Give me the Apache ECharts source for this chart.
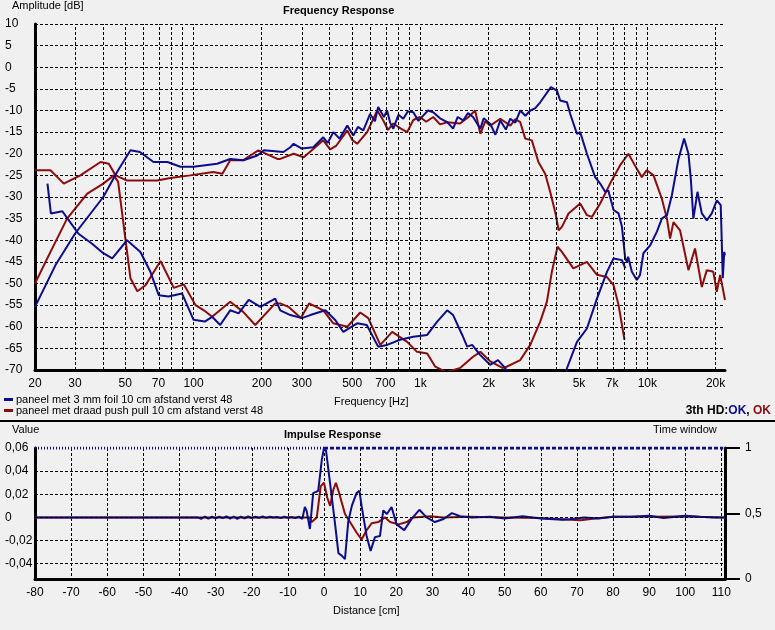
<!DOCTYPE html>
<html>
<head>
<meta charset="UTF-8">
<title>Frequency / Impulse Response</title>
<style>
  html, body { margin: 0; padding: 0; background: #f0f0f0; }
  #chart { width: 775px; height: 630px; }
</style>
<script src="https://cdn.jsdelivr.net/npm/echarts@6/dist/echarts.min.js"></script>
</head>
<body>
<div id="chart"></div>
<script>
// ---- frequency response data: [Hz, dB] ----
var blueMain = [[20,-55.4],[24.6,-45.8],[30,-38.5],[40,-30],[46,-24.2],[52.7,-19.2],[58,-19.6],[66.6,-21.9],[76.7,-21.9],[87.5,-23],[100,-23],[127,-22.3],[145,-21.2],[166,-21.5],[191,-20.4],[204,-19.2],[249,-19.6],[267,-18.5],[276,-17.7],[300,-18.8],[337,-18.5],[373,-16.2],[390,-17.5],[413,-15],[440,-16.5],[476,-13.5],[506,-15.8],[530,-13.8],[560,-14.6],[600,-10.8],[630,-12.5],[651,-9.2],[690,-11.5],[713,-10],[735,-12.8],[759,-14.2],[800,-11],[840,-11.9],[880,-10.2],[930,-10.4],[980,-12.4],[1028,-11.2],[1080,-10],[1138,-10.4],[1220,-11.8],[1312,-12.7],[1393,-14.2],[1460,-11.5],[1542,-12.3],[1620,-10.6],[1706,-11.5],[1837,-14.2],[1900,-11.8],[2032,-13.1],[2140,-15.6],[2249,-12.3],[2380,-14.4],[2489,-11.9],[2620,-12.8],[2754,-10],[2900,-11.2],[3048,-10],[3200,-9.5],[3373,-8.1],[3759,-4.6],[3995,-5.4],[4130,-7.7],[4424,-8.1],[4573,-10.8],[4897,-15.4],[5059,-15],[5418,-20],[5890,-25.4],[6197,-26.9],[6519,-28.8],[6730,-28.5],[7100,-33],[7470,-33.8],[7730,-36.9],[7990,-44.2],[8130,-45],[8230,-43.8],[8550,-47.3],[8990,-49.2],[9290,-48],[9610,-43],[10290,-41.2],[11020,-38],[11590,-35],[12200,-34.2],[12830,-29.6],[13720,-21.2],[14530,-16.5],[15180,-20],[15550,-25.8],[15960,-35],[16640,-28.8],[17390,-33.8],[18290,-35.4],[19240,-33.8],[20240,-30.8],[21070,-31.9],[21510,-48.8],[21830,-42.7],[22000,-43.5]];
var blueHD2 = [[22.7,-26.9],[23.5,-33.8],[26.4,-33.3],[28.2,-35.4],[31.1,-38.5],[35.7,-40.8],[40,-43],[43.8,-44.2],[50.9,-40],[58.3,-42.7],[64.5,-47.3],[70.2,-52.7],[77.6,-53],[88.9,-52.3],[100,-58.4],[112,-58.8],[120.7,-57.7],[131,-59.6],[145,-56.2],[158,-56.9],[175,-53.8],[197,-55.4],[229,-53.5],[241,-56.2],[267,-57.3],[300,-58],[327,-57.3],[381,-56.2],[422,-58.5],[457,-61.2],[526,-59.2],[580,-59.6],[651,-64.6],[713,-64.2],[813,-63],[930,-62.3],[1071,-61.9],[1185,-58.8],[1312,-56.2],[1393,-57.3],[1528,-61.9],[1607,-64.6],[1690,-64.2],[1832,-66.5],[2028,-68.8],[2197,-67.7],[2360,-69.5],[2500,-72]];
var blueHD3 = [[4300,-72],[4424,-69.6],[4897,-63.5],[5418,-60.4],[5998,-53.5],[6640,-47.3],[7100,-44.2],[7730,-44.6],[8000,-46.5]];
var redMain = [[20,-23.8],[23.4,-23.8],[26.8,-26.9],[31.7,-25],[38.9,-21.9],[42.3,-22.3],[45.3,-25],[51,-26.2],[62.5,-26.2],[69.2,-26.2],[79,-25.6],[96.6,-25],[122,-24.2],[134,-24.6],[145,-21.5],[165,-21.5],[193,-19.2],[234,-21.2],[241,-21.2],[276,-20],[306,-20.8],[373,-16.9],[400,-19],[426,-18.1],[476,-14.6],[500,-16.8],[526,-17.7],[582,-15],[645,-10],[686,-12.3],[720,-14.5],[759,-13],[820,-14.2],[874,-15],[930,-12.2],[995,-11.5],[1060,-12.6],[1138,-11.5],[1220,-13.2],[1312,-12.7],[1494,-13],[1620,-11.6],[1742,-10],[1837,-15.4],[1930,-12.5],[2032,-13.5],[2249,-11.9],[2489,-13.5],[2620,-12],[2754,-12.7],[2897,-16.5],[3097,-16.9],[3311,-21.9],[3545,-24.6],[3731,-28.8],[3927,-33.5],[4066,-37.7],[4202,-36.9],[4497,-33.8],[5059,-31.5],[5418,-34.2],[5700,-34.6],[6197,-31.5],[6855,-26.9],[7580,-22.7],[8255,-20],[8990,-23.5],[9460,-25.4],[9950,-23.8],[10650,-25],[11590,-30.4],[12200,-35],[12600,-39.6],[13040,-35.8],[13940,-37.7],[15180,-46.9],[16230,-41.9],[17390,-50.8],[18290,-46.9],[19540,-47.3],[20240,-51.9],[20940,-48],[22000,-53.8]];
var redHD2 = [[20,-50],[23.4,-42.7],[27.7,-35],[34,-29.2],[40,-26.9],[44.5,-25],[46.5,-26.5],[49.4,-37.3],[52.7,-48.8],[56.5,-51.8],[61.4,-50.4],[71.5,-44.8],[81.8,-51],[90.5,-50.2],[102,-55],[111,-56.2],[120.7,-57.7],[145,-54.2],[165,-56.5],[187,-59.6],[229,-54.6],[241,-54.6],[262,-55.4],[297,-58],[323,-54.6],[373,-56.2],[413,-59.2],[476,-60],[543,-56.7],[589,-58],[665,-64.2],[751,-61.2],[874,-63.5],[966,-65.8],[1071,-66.2],[1161,-69.2],[1300,-70.5],[1500,-69.5],[1700,-67],[1837,-65.8],[2032,-68],[2322,-69.6]];
var redHD3 = [[2322,-69.6],[2754,-67.7],[3048,-64.2],[3373,-58.8],[3610,-54.2],[3795,-47.3],[4020,-41.5],[4202,-42.7],[4720,-46.5],[5418,-45],[5998,-48],[6640,-48.5],[7100,-50.4],[7470,-55],[7930,-63]];

var freqGrid = [30,40,50,60,70,80,90,100,200,300,400,500,600,700,800,900,1000,2000,3000,4000,5000,6000,7000,8000,9000,10000,20000];
var freqLabels = [20,30,50,70,100,200,300,500,700,1000,2000,3000,5000,7000,10000,20000];

// ---- impulse response data: [cm, value] ----
var blueImp = [[-80,0],[-35,0],[-34,-0.0012],[-33,0.0008],[-32,-0.001],[-31,0.0006],[-30,-0.0008],[-29,0.0006],[-28,-0.0006],[-27,0.001],[-26,-0.001],[-25,0.0008],[-24,-0.0012],[-23,0.0006],[-22,-0.0008],[-21,0.0008],[-20,-0.0006],[-19,0.0006],[-18,-0.0004],[-17,0.0008],[-16,-0.0004],[-15,0.0006],[-14,0],[-13,0.0004],[-12,-0.0006],[-11,0.0006],[-10,-0.0002],[-9,0.0004],[-8,-0.0006],[-7,0.0006],[-6,-0.0012],[-5.3,0.009],[-4.8,0.0057],[-3.9,-0.01],[-3,0.021],[-1.6,0.023],[-0.6,0.05],[0,0.06],[0.55,0.058],[1.66,0.03],[3,-0.004],[4,-0.031],[4.9,-0.033],[5.8,-0.036],[6.7,-0.004],[7.7,0.01],[9,0.021],[9.8,0.023],[10.4,0.01],[11.8,-0.016],[12.9,-0.029],[14.1,-0.017],[15.5,-0.016],[16.4,0.006],[17.4,0.003],[18.7,0.009],[20.1,-0.006],[22.2,-0.011],[24.3,-0.001],[26.4,0.0066],[28.4,0],[30.7,-0.004],[33.1,-0.0014],[35.4,0.0037],[37.7,0.001],[41,0],[46,0.0005],[50,-0.001],[55,0.001],[60,-0.001],[66,-0.002],[68,-0.0015],[72,0],[76,-0.001],[80,0.0005],[85,0.0005],[90,0.0015],[94,-0.0005],[100,0.0015],[104,0.0005],[108,0],[111,0]];
var redImp = [[-80,0],[-4,0],[-3.4,-0.004],[-2,0],[-0.9,0.027],[0,0.03],[0.9,0.017],[1.7,0.01],[2.6,0.024],[3.3,0.03],[4.2,0.021],[5.8,0.003],[7.2,-0.004],[9,-0.013],[10.4,-0.019],[11.8,-0.011],[13.2,-0.005],[15,-0.004],[16.9,0],[18.3,-0.004],[20.6,-0.006],[22.9,-0.004],[24.7,0],[29.4,0.001],[33,0],[40,0.0005],[50,0],[60,-0.0005],[66,-0.0015],[71,-0.0025],[75,-0.001],[80,0.0005],[90,0.0005],[100,0.0008],[111,0]];
var impGrid = [0.04,0.02,0,-0.02,-0.04];
var impLabels = [-0.04,-0.02,0,0.02,0.04,0.06];
var timeWindowPre = [[-80,1],[0,1]];
var timeWindow = [[0,1],[110.5,1]];

var BLUE = '#0c0c8c', RED = '#8c0c0c';
var FONT = 'Liberation Sans';
var dash = {type: [3, 2], color: '#000', width: 1};
var axLine = {show: true, onZero: false, lineStyle: {color: '#000', width: 3}};

function lg(d) { return d.map(function (p) { return [Math.log10(p[0]), p[1]]; }); }
function comma(v) { return String(Math.round(v * 100) / 100).replace('.', ','); }

var chart = echarts.init(document.getElementById('chart'));
var line = function (name, data, color, x, y, extra) {
  return Object.assign({
    name: name, type: 'line', data: data, xAxisIndex: x, yAxisIndex: y,
    showSymbol: false, symbol: 'none', animation: false, silent: true,
    lineStyle: {color: color, width: 2}, itemStyle: {color: color}
  }, extra || {});
};

chart.setOption({
  backgroundColor: '#f0f0f0',
  textStyle: {fontFamily: FONT},
  grid: [
    {left: 35, right: 50, top: 24, height: 346},
    {left: 35, right: 50, top: 448, height: 131}
  ],
  legend: {
    data: ['paneel met 3 mm foil 10 cm afstand verst 48', 'paneel met draad push pull 10 cm afstand verst 48'],
    orient: 'vertical', left: 2, top: 392, itemWidth: 9, itemHeight: 3, itemGap: 0, padding: 2,
    icon: 'rect', selectedMode: false,
    textStyle: {fontSize: 11, color: '#000', fontFamily: FONT, padding: [0, 0, 0, -2]}
  },
  xAxis: [
    {gridIndex: 0, type: 'value', min: Math.log10(20), max: Math.log10(22000),
      axisLine: axLine, axisTick: {show: false}, splitLine: {show: false},
      axisLabel: {customValues: freqLabels.map(Math.log10), color: '#000', fontSize: 12, margin: 8,
        formatter: function (v) { var f = Math.round(Math.pow(10, v)); return f >= 1000 ? f / 1000 + 'k' : f; }}},
    {gridIndex: 1, type: 'value', min: -80, max: 111, interval: 10,
      axisLine: axLine, axisTick: {show: false},
      splitLine: {lineStyle: dash},
      axisLabel: {color: '#000', fontSize: 12, margin: 8, showMaxLabel: false}}
  ],
  yAxis: [
    {gridIndex: 0, type: 'value', min: -70, max: 10, interval: 5,
      axisLine: axLine, axisTick: {show: false},
      splitLine: {lineStyle: dash},
      axisLabel: {color: '#000', fontSize: 12, align: 'left', margin: 30}},
    {gridIndex: 1, type: 'value', min: -0.0532, max: 0.06,
      axisLine: axLine, axisTick: {show: false},
      splitLine: {show: false},
      axisLabel: {customValues: impLabels, color: '#000', fontSize: 12, align: 'left', margin: 30, formatter: comma}},
    {gridIndex: 1, type: 'value', min: 0, max: 1, interval: 0.5, position: 'right',
      axisLine: axLine,
      axisTick: {show: true, length: 15, lineStyle: {color: '#000', width: 2}},
      splitLine: {show: false},
      axisLabel: {color: '#000', fontSize: 12, margin: 20, formatter: comma}}
  ],
  graphic: [
    {type: 'text', left: 12, top: 0, style: {text: 'Amplitude [dB]', font: '11px ' + FONT, fill: '#000'}},
    {type: 'text', left: 283, top: 5, style: {text: 'Frequency Response', font: 'bold 11px ' + FONT, fill: '#000'}},
    {type: 'text', left: 334, top: 396, style: {text: 'Frequency [Hz]', font: '11px ' + FONT, fill: '#000'}},
    {type: 'text', right: 4, top: 405, style: {
      text: '{k|3th HD:}{b|OK}{k|, }{r|OK}', font: 'bold 12px ' + FONT,
      rich: {k: {fill: '#000', font: 'bold 12px ' + FONT}, b: {fill: BLUE, font: 'bold 12px ' + FONT}, r: {fill: RED, font: 'bold 12px ' + FONT}}}},
    {type: 'rect', left: 0, top: 420, shape: {width: 775, height: 2}, style: {fill: '#000'}},
    {type: 'text', left: 12, top: 424, style: {text: 'Value', font: '11px ' + FONT, fill: '#000'}},
    {type: 'text', left: 284, top: 429, style: {text: 'Impulse Response', font: 'bold 11px ' + FONT, fill: '#000'}},
    {type: 'text', left: 653, top: 424, style: {text: 'Time window', font: '11px ' + FONT, fill: '#000'}},
    {type: 'text', left: 333, top: 605, style: {text: 'Distance [cm]', font: '11px ' + FONT, fill: '#000'}}
  ],
  series: [
    line('grid-f', [], '#000', 0, 0, {markLine: {silent: true, symbol: 'none', animation: false, label: {show: false},
      lineStyle: dash, data: freqGrid.map(function (f) { return {xAxis: Math.log10(f)}; })}}),
    line('grid-i', [], '#000', 1, 1, {markLine: {silent: true, symbol: 'none', animation: false, label: {show: false},
      lineStyle: dash, data: impGrid.map(function (v) { return {yAxis: v}; })}}),
    line('paneel met draad push pull 10 cm afstand verst 48', lg(redMain), RED, 0, 0),
    line('red-hd2', lg(redHD2), RED, 0, 0),
    line('red-hd3', lg(redHD3), RED, 0, 0),
    line('paneel met 3 mm foil 10 cm afstand verst 48', lg(blueMain), BLUE, 0, 0),
    line('blue-hd2', lg(blueHD2), BLUE, 0, 0),
    line('blue-hd3', lg(blueHD3), BLUE, 0, 0),
    line('red-imp', redImp, RED, 1, 1),
    line('blue-imp', blueImp, BLUE, 1, 1),
    line('tw-pre', timeWindowPre, BLUE, 1, 2, {lineStyle: {color: BLUE, width: 3, type: [1, 2]}}),
    line('tw', timeWindow, BLUE, 1, 2, {lineStyle: {color: BLUE, width: 3, type: [4, 2]}})
  ]
});
</script>
</body>
</html>
